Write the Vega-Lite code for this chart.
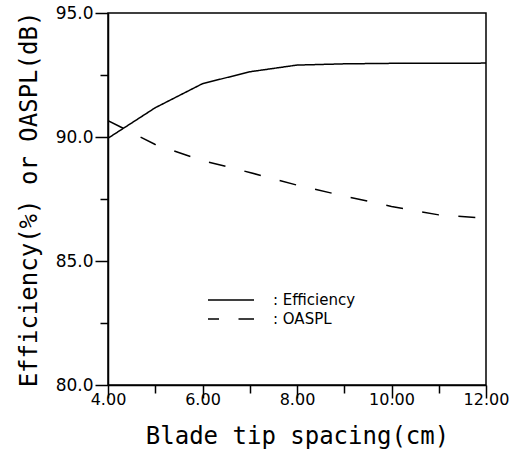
{
  "$schema": "https://vega.github.io/schema/vega-lite/v6.json",
  "width": 378,
  "height": 372,
  "autosize": {"type": "none"},
  "padding": {"left": 108, "top": 13, "right": 28, "bottom": 69},
  "background": "white",
  "config": {
    "view": {"stroke": "black", "strokeWidth": 1.5},
    "axis": {"grid": false, "domainColor": "black", "tickColor": "black", "labelColor": "black", "titleColor": "black", "domainWidth": 1.5, "tickWidth": 1.5, "labelOverlap": false, "labelBound": false, "labelFlush": false}
  },
  "data": {
    "values": [
      {"spacing": 4, "value": 89.95, "series": "Efficiency"},
      {"spacing": 5, "value": 91.18, "series": "Efficiency"},
      {"spacing": 6, "value": 92.15, "series": "Efficiency"},
      {"spacing": 7, "value": 92.63, "series": "Efficiency"},
      {"spacing": 8, "value": 92.9, "series": "Efficiency"},
      {"spacing": 9, "value": 92.95, "series": "Efficiency"},
      {"spacing": 10, "value": 92.97, "series": "Efficiency"},
      {"spacing": 11, "value": 92.97, "series": "Efficiency"},
      {"spacing": 12, "value": 92.98, "series": "Efficiency"},
      {"spacing": 4, "value": 90.66, "series": "OASPL"},
      {"spacing": 5, "value": 89.7, "series": "OASPL"},
      {"spacing": 6, "value": 89.05, "series": "OASPL"},
      {"spacing": 7, "value": 88.57, "series": "OASPL"},
      {"spacing": 8, "value": 88.06, "series": "OASPL"},
      {"spacing": 9, "value": 87.62, "series": "OASPL"},
      {"spacing": 10, "value": 87.2, "series": "OASPL"},
      {"spacing": 11, "value": 86.86, "series": "OASPL"},
      {"spacing": 12, "value": 86.72, "series": "OASPL"}
    ]
  },
  "mark": {"type": "line", "color": "black", "strokeWidth": 1.5, "clip": true},
  "encoding": {
    "x": {
      "field": "spacing",
      "type": "quantitative",
      "scale": {"domain": [4, 12], "nice": false, "zero": false},
      "axis": {
        "title": "Blade tip spacing(cm)",
        "values": [4, 5, 6, 7, 8, 9, 10, 11, 12],
        "labelExpr": "datum.value % 2 === 0 ? format(datum.value, '.2f') : ''",
        "tickSize": {"condition": {"test": "datum.value % 2 === 0", "value": 13}, "value": 8},
        "labelFont": "DejaVu Sans",
        "labelFontSize": 16,
        "labelPadding": -7,
        "titleFont": "DejaVu Sans Mono",
        "titleFontSize": 24,
        "titleFontWeight": "normal",
        "titlePadding": 17
      }
    },
    "y": {
      "field": "value",
      "type": "quantitative",
      "scale": {"domain": [80, 95], "nice": false, "zero": false},
      "axis": {
        "title": "Efficiency(%) or OASPL(dB)",
        "values": [80, 82.5, 85, 87.5, 90, 92.5, 95],
        "labelExpr": "datum.value % 5 === 0 ? format(datum.value, '.1f') : ''",
        "tickSize": {"condition": {"test": "datum.value % 5 === 0", "value": 13}, "value": 8},
        "labelFont": "DejaVu Sans",
        "labelFontSize": 17,
        "labelPadding": 2,
        "titleFont": "DejaVu Sans Mono",
        "titleFontSize": 24,
        "titleFontWeight": "normal",
        "titlePadding": 14
      }
    },
    "strokeDash": {
      "field": "series",
      "type": "nominal",
      "scale": {"domain": ["Efficiency", "OASPL"], "range": [[1, 0], [17, 19.5]]},
      "legend": {
        "title": null,
        "orient": "none",
        "legendX": 112,
        "legendY": 276,
        "padding": 0,
        "symbolType": "M-2.3,0H2.3",
        "symbolSize": 400,
        "symbolStrokeWidth": 1.5,
        "symbolStrokeColor": "black",
        "symbolFillColor": "transparent",
        "symbolDashOffset": 6,
        "labelExpr": "': ' + datum.label",
        "labelFont": "DejaVu Sans",
        "labelFontSize": 15,
        "labelColor": "black",
        "labelOffset": 31,
        "rowPadding": 0
      }
    }
  }
}
